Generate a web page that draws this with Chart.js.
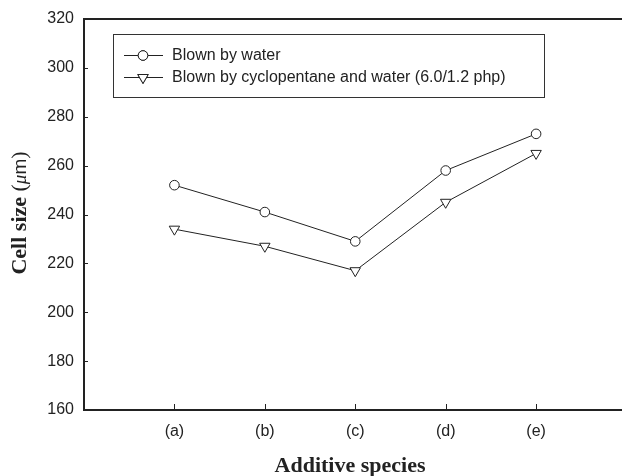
<!DOCTYPE html>
<html>
<head>
<meta charset="utf-8">
<script src="https://cdn.jsdelivr.net/npm/chart.js@4/dist/chart.umd.min.js"></script>
<style>
  html, body { margin: 0; padding: 0; background: #fff; }
  #wrap { position: relative; width: 622px; height: 476px; }
</style>
</head>
<body>
<div id="wrap"><canvas id="c" width="622" height="476"></canvas></div>
<script>
// ---- data ----
const categories = ["(a)", "(b)", "(c)", "(d)", "(e)"];
const seriesNames = ["Blown by water", "Blown by cyclopentane and water (6.0/1.2 php)"];
const waterValues = [252, 241, 229, 258, 273];
const cyclopentaneValues = [234, 227, 217, 245, 265];
const yTicks = [160, 180, 200, 220, 240, 260, 280, 300, 320];
const xTitle = "Additive species";
const yTitleParts = ["Cell size ", "(", "\u03BC", "m", ")"];

const toPoints = vals => vals.map((v, i) => ({ x: i + 1, y: v }));

const INK = '#222';

const framePlugin = {
  id: 'frame',
  afterDraw(chart) {
    const ctx = chart.ctx;
    const a = chart.chartArea;
    const xs = chart.scales.x, ys = chart.scales.y;
    ctx.save();
    ctx.strokeStyle = INK;
    // top line
    ctx.lineWidth = 2;
    ctx.beginPath();
    ctx.moveTo(a.left - 1, a.top);
    ctx.lineTo(chart.width, a.top);
    ctx.stroke();
    // inward ticks
    ctx.lineWidth = 1;
    yTicks.forEach(v => {
      const y = Math.round(ys.getPixelForValue(v)) + 0.5;
      ctx.beginPath();
      ctx.moveTo(a.left, y);
      ctx.lineTo(a.left + 4, y);
      ctx.stroke();
    });
    categories.forEach((c, i) => {
      const x = Math.round(xs.getPixelForValue(i + 1)) + 0.5;
      ctx.beginPath();
      ctx.moveTo(x, a.bottom);
      ctx.lineTo(x, a.bottom - 6);
      ctx.stroke();
    });

    // x title
    ctx.fillStyle = INK;
    ctx.font = 'bold 22px "Liberation Serif", "Times New Roman", serif';
    ctx.textAlign = 'center';
    ctx.textBaseline = 'alphabetic';
    ctx.fillText(xTitle, 350, 472);

    // y title (mixed fonts)
    const fonts = [
      'bold 22px "Liberation Serif", serif',
      '22px "Liberation Serif", serif',
      'italic 19px "Liberation Serif", serif',
      '19px "Liberation Sans", sans-serif',
      '22px "Liberation Serif", serif'
    ];
    let total = 0;
    const widths = yTitleParts.map((p, i) => { ctx.font = fonts[i]; const w = ctx.measureText(p).width; total += w; return w; });
    ctx.translate(26, 213);
    ctx.rotate(-Math.PI / 2);
    ctx.textAlign = 'left';
    let cx = -total / 2;
    yTitleParts.forEach((p, i) => {
      ctx.font = fonts[i];
      ctx.fillText(p, cx, 0);
      cx += widths[i];
    });
    ctx.restore();

    // legend
    ctx.save();
    ctx.strokeStyle = '#333';
    ctx.lineWidth = 1;
    ctx.strokeRect(113.5, 34.5, 431, 63);
    const rows = [55, 77];
    chart.data.datasets.forEach((ds, i) => {
      const y = rows[i];
      ctx.strokeStyle = INK;
      ctx.lineWidth = 1;
      ctx.beginPath();
      ctx.moveTo(124, y + 0.5);
      ctx.lineTo(163, y + 0.5);
      ctx.stroke();
      ctx.fillStyle = '#fff';
      Chart.helpers.drawPoint(ctx, {
        pointStyle: ds.pointStyle,
        radius: ds.pointRadius,
        rotation: ds.pointRotation || 0,
        borderWidth: 1
      }, 143, y + 0.5);
      ctx.fill();
      ctx.stroke();
      ctx.fillStyle = INK;
      ctx.font = '16px "Liberation Sans", Arial, sans-serif';
      ctx.textAlign = 'left';
      ctx.textBaseline = 'middle';
      ctx.fillText(ds.label, 172, y + 1);
    });
    ctx.restore();
  }
};

new Chart(document.getElementById('c'), {
  type: 'line',
  data: {
    datasets: [
      {
        label: seriesNames[0],
        data: toPoints(waterValues),
        borderColor: INK, borderWidth: 1,
        pointStyle: 'circle', pointRadius: 4.8,
        pointBackgroundColor: '#fff', pointBorderColor: INK, pointBorderWidth: 1,
        tension: 0
      },
      {
        label: seriesNames[1],
        data: toPoints(cyclopentaneValues),
        borderColor: INK, borderWidth: 1,
        pointStyle: 'triangle', pointRadius: 6, pointRotation: 180,
        pointBackgroundColor: '#fff', pointBorderColor: INK, pointBorderWidth: 1,
        tension: 0
      }
    ]
  },
  options: {
    responsive: false,
    animation: false,
    events: [],
    layout: { autoPadding: false, padding: { top: 19, right: 0, left: 0, bottom: 0 } },
    plugins: { legend: { display: false }, tooltip: { enabled: false } },
    scales: {
      x: {
        type: 'linear',
        min: 0, max: 5.95,
        afterBuildTicks: s => { s.ticks = categories.map((c, i) => ({ value: i + 1 })); },
        afterFit: s => { s.height = 66; s.paddingRight = 0; s.paddingLeft = 0; },
        grid: { display: false, drawTicks: false },
        border: { display: true, color: INK, width: 2 },
        ticks: {
          callback: v => categories[v - 1],
          color: INK, padding: 12,
          font: { family: '"Liberation Sans", Arial, sans-serif', size: 16 },
          maxRotation: 0
        }
      },
      y: {
        type: 'linear',
        min: 160, max: 320,
        afterBuildTicks: s => { s.ticks = yTicks.map(v => ({ value: v })); },
        afterFit: s => { s.width = 84; s.paddingTop = 0; s.paddingBottom = 0; },
        grid: { display: false, drawTicks: false },
        border: { display: true, color: INK, width: 2 },
        ticks: {
          color: INK, padding: 10,
          font: { family: '"Liberation Sans", Arial, sans-serif', size: 16 }
        }
      }
    }
  },
  plugins: [framePlugin]
});
</script>
</body>
</html>
